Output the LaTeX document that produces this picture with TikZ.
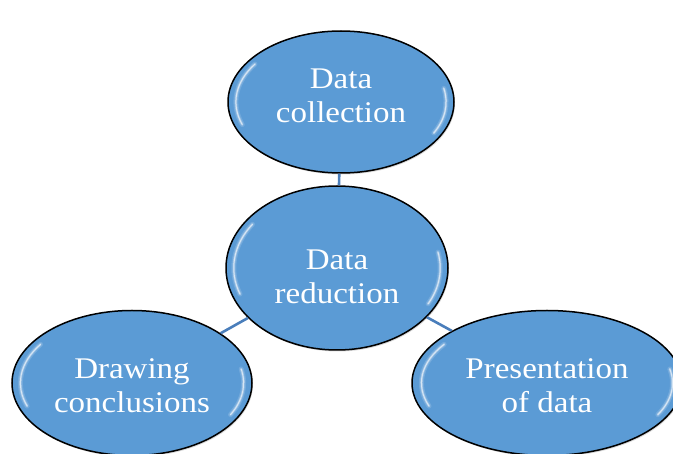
\documentclass[tikz,border=0pt]{standalone}
\usepackage{fontspec}
\setmainfont{Liberation Serif}[FakeStretch=1.1]
\usetikzlibrary{shapes.geometric}
\usetikzlibrary{shadows}
\usetikzlibrary{calc}

\definecolor{ovalblue}{RGB}{91,155,213}
\definecolor{linkblue}{RGB}{74,126,187}

\begin{document}
\begin{tikzpicture}[x=1pt,y=-1pt]
    \tikzstyle{Gloss} = [
            draw=white,
            line cap=round
    ];
    \tikzstyle{Oval} = [
            ellipse,
            draw=black,
            line width=1.5pt,
            fill=ovalblue,
            inner sep=0pt,
            drop shadow={opacity=0.3,shadow xshift=1pt,shadow yshift=-1.5pt},
            path picture={
                \foreach \w/\o in {5pt/0.15,2.5pt/0.3,1pt/0.6}{
                \draw[Gloss,line width=\w,opacity=\o] let \p1=(path picture bounding box.center),
                                 \p2=(path picture bounding box.north east) in
                    ($(\p1)+({0.93*(\x2-\x1)*cos(145)},{0.93*(\y2-\y1)*sin(145)})$)
                    arc[start angle=145,end angle=200,
                        x radius={0.93*(\x2-\x1)},y radius={0.93*(\y2-\y1)}];
                \draw[Gloss,line width=\w,opacity=\o] let \p1=(path picture bounding box.center),
                                 \p2=(path picture bounding box.north east) in
                    ($(\p1)+({0.93*(\x2-\x1)*cos(-28)},{0.93*(\y2-\y1)*sin(-28)})$)
                    arc[start angle=-28,end angle=12,
                        x radius={0.93*(\x2-\x1)},y radius={0.93*(\y2-\y1)}];
                }
            }
    ];
    \tikzstyle{Caption} = [
            text=white,
            align=center,
            inner sep=0pt,
            font={\fontsize{30}{34}\selectfont}
    ];
    \tikzstyle{Link} = [
            draw=linkblue,
            line width=2.6pt
    ];

    \useasboundingbox (0,0) rectangle (673,454);

    \node[Oval, name=Reduction, minimum width=222pt, minimum height=164pt]    at (337,268) {};
    \node[Oval, name=Collection, minimum width=226pt, minimum height=142pt]   at (341,102) {};
    \node[Oval, name=Conclusions, minimum width=240pt, minimum height=145pt]  at (132,383) {};
    \node[Oval, name=Presentation, minimum width=270pt, minimum height=145pt] at (547,383) {};

    \node[Caption, name=ReductionText]    at ([yshift=-9pt]Reduction)    {Data\\reduction};
    \node[Caption, name=CollectionText]   at ([yshift=6pt]Collection)    {Data\\collection};
    \node[Caption, name=ConclusionsText]  at ([yshift=-3pt]Conclusions)  {Drawing\\conclusions};
    \node[Caption, name=PresentationText] at ([yshift=-3pt]Presentation) {Presentation\\of data};

    \path (Collection) edge [Link] (Reduction)
          (Reduction)  edge [Link] (Conclusions)
          (Reduction)  edge [Link] (Presentation);
\end{tikzpicture}
\end{document}
